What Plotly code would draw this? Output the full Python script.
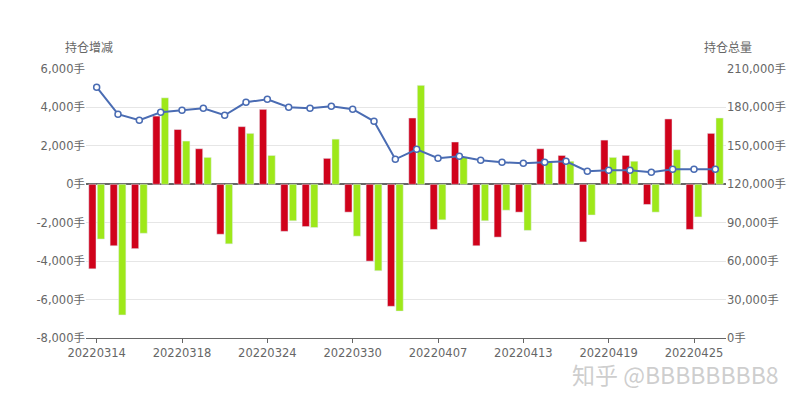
import plotly.graph_objs as go

dates = ["20220314", "20220315", "20220316", "20220317", "20220318", "20220321",
         "20220322", "20220323", "20220324", "20220325", "20220328", "20220329",
         "20220330", "20220331", "20220401", "20220406", "20220407", "20220408",
         "20220411", "20220412", "20220413", "20220414", "20220415", "20220418",
         "20220419", "20220420", "20220421", "20220422", "20220425", "20220426"]
red_vals = [-4400, -3200, -3350, 3550, 2850, 1850, -2600, 3000, 3900, -2450,
            -2200, 1350, -1450, -4000, -6350, 3450, -2350, 2200, -3200, -2750,
            -1450, 1850, 1500, -3000, 2300, 1500, -1050, 3400, -2350, 2650]
green_vals = [-2850, -6800, -2550, 4500, 2250, 1400, -3100, 2650, 1500, -1900,
              -2250, 2350, -2700, -4500, -6600, 5150, -1850, 1400, -1900, -1350,
              -2400, 1200, 1200, -1600, 1400, 1200, -1450, 1800, -1700, 3450]
total = [195800, 174700, 170000, 176250, 177800, 179400, 173900, 184000, 186400,
         180200, 179400, 181000, 178600, 169200, 139500, 147300, 140300, 141900,
         138750, 137200, 136400, 137200, 138000, 130200, 130900, 130900, 129400,
         131700, 131700, 131700]

left_ticks = list(range(-8000, 6001, 2000))
right_ticks = list(range(0, 210001, 30000))

fig = go.Figure()
fig.add_trace(go.Bar(x=dates, y=red_vals, marker_color="#d0021b", name="a"))
fig.add_trace(go.Bar(x=dates, y=green_vals, marker_color="#9ee81a", name="b"))
fig.add_trace(go.Scatter(x=dates, y=total, yaxis="y2", mode="lines+markers",
                         line=dict(color="#4a6cb3", width=2),
                         marker=dict(size=6, color="white",
                                     line=dict(color="#4a6cb3", width=1.5))))

fig.update_layout(
    width=800, height=400, showlegend=False,
    plot_bgcolor="white", paper_bgcolor="white",
    margin=dict(l=78, r=82, t=61, b=70, autoexpand=False),
    bargap=0.2, bargroupgap=0.15,
    font=dict(family="DejaVu Sans, Noto Sans CJK SC", size=11.5, color="#666"),
    xaxis=dict(type="category", tickvals=dates[::4], ticktext=dates[::4],
               range=[-0.5, 29.5],
               showline=True, linecolor="#666", ticks="outside", ticklen=4,
               tickcolor="#666", showgrid=False, automargin=False),
    yaxis=dict(range=[-8000, 6000], tickvals=left_ticks,
               ticktext=[f"{v:,}手" for v in left_ticks], automargin=False,
               gridcolor="#e6e6e6", zeroline=True, zerolinecolor="#666"),
    yaxis2=dict(range=[0, 210000], tickvals=right_ticks,
                ticktext=[f"{v:,}手" for v in right_ticks], automargin=False,
                overlaying="y", side="right", showgrid=False, zeroline=False),
    annotations=[
        dict(text="持仓增减", x=0, y=1, xref="paper", yref="paper",
             xanchor="center", yanchor="bottom", xshift=3, yshift=12,
             showarrow=False,
             font=dict(family="Noto Sans CJK SC", size=12, color="#666")),
        dict(text="持仓总量", x=1, y=1, xref="paper", yref="paper",
             xanchor="center", yanchor="bottom", xshift=2, yshift=12,
             showarrow=False,
             font=dict(family="Noto Sans CJK SC", size=12, color="#666")),
        dict(text="知乎 @BBBBBBBB8", x=1, y=0, xref="paper", yref="paper",
             xanchor="right", yanchor="top", xshift=55, yshift=-17,
             showarrow=False,
             font=dict(family="Noto Sans CJK SC", size=23,
                       color="rgba(200,200,200,0.9)")),
    ],
)
fig.write_html("out.html")
